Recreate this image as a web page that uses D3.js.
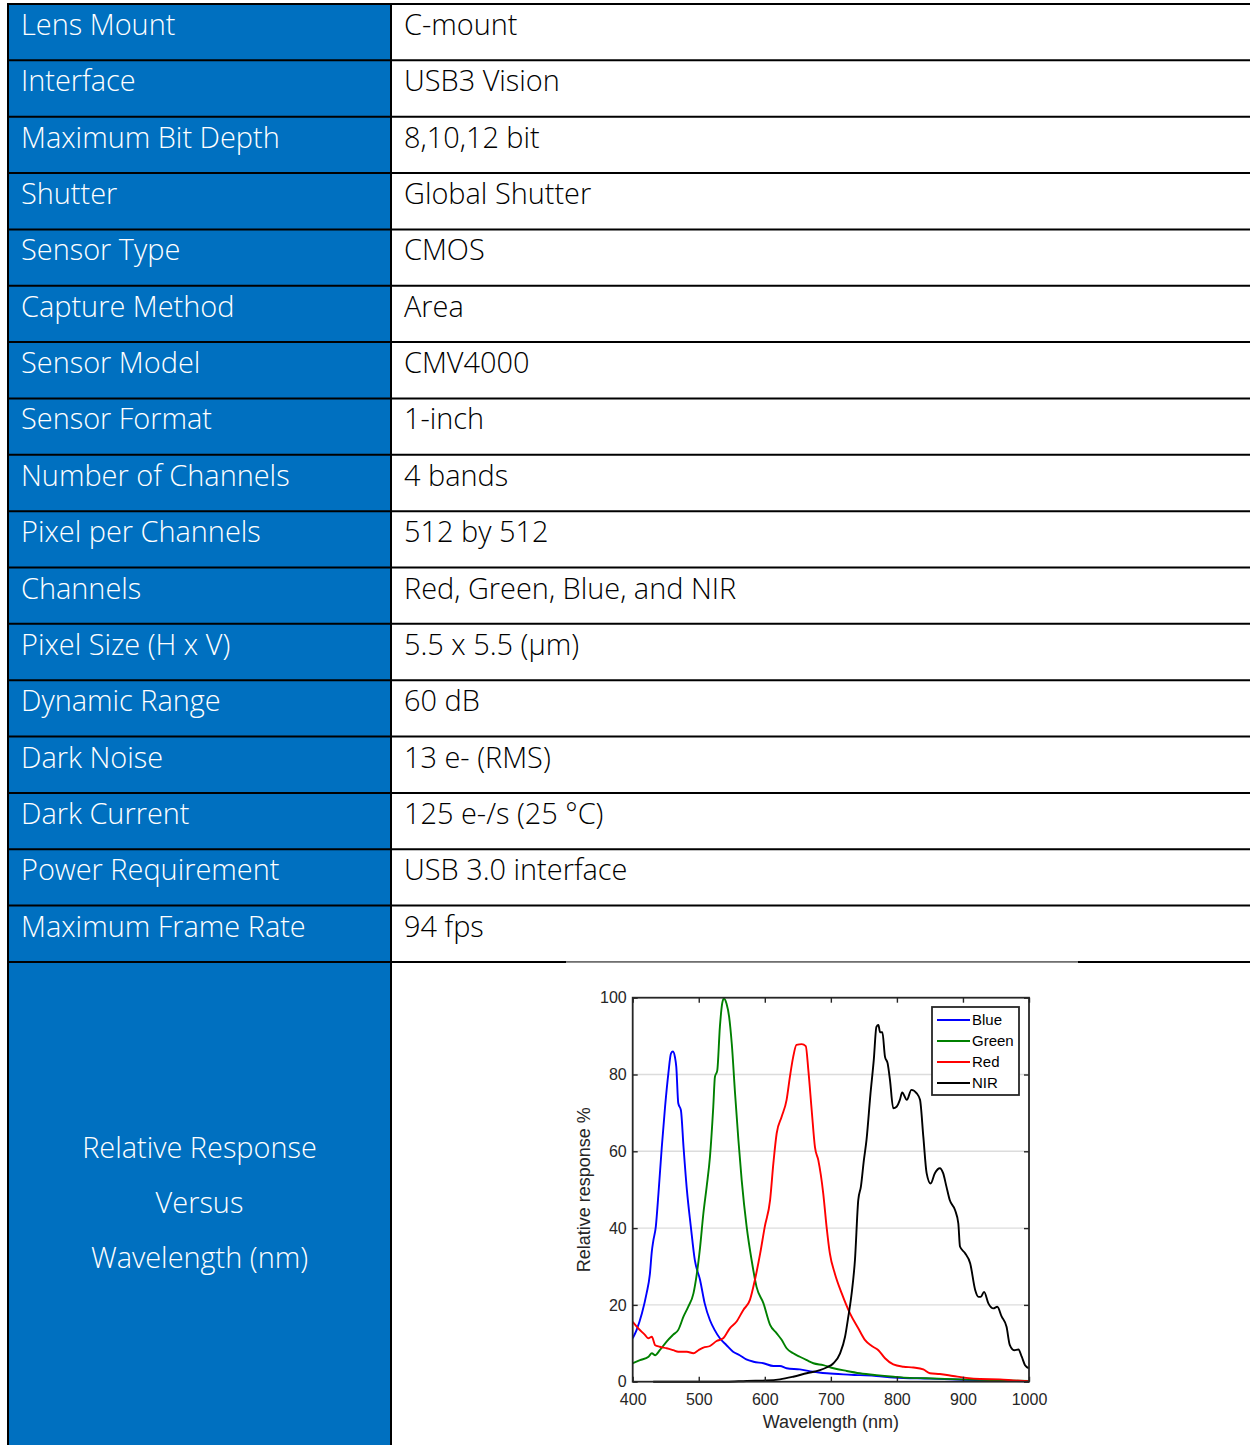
<!DOCTYPE html>
<html>
<head>
<meta charset="utf-8">
<script src="https://cdn.jsdelivr.net/npm/d3@7"></script>
<style>
  body { margin: 0; background: #fff; }
  svg { display: block; }
</style>
</head>
<body>
<svg width="1250" height="1445"></svg>
<script>
// camera spec table + spectral response plot

// table rows
const specNames = [
  "Lens Mount", "Interface", "Maximum Bit Depth", "Shutter", "Sensor Type",
  "Capture Method", "Sensor Model", "Sensor Format", "Number of Channels",
  "Pixel per Channels", "Channels", "Pixel Size (H x V)", "Dynamic Range",
  "Dark Noise", "Dark Current", "Power Requirement", "Maximum Frame Rate"
];
const specValues = [
  "C-mount", "USB3 Vision", "8,10,12 bit", "Global Shutter", "CMOS",
  "Area", "CMV4000", "1-inch", "4 bands", "512 by 512",
  "Red, Green, Blue, and NIR", "5.5 x 5.5 (\u00b5m)", "60 dB",
  "13 e- (RMS)", "125 e-/s (25 \u00b0C)", "USB 3.0 interface", "94 fps"
];
const lastRowLabel = ["Relative Response", "Versus", "Wavelength (nm)"];

// spectral curves, [wavelength nm, relative response %]
const blueCurve = [
  [400, 11.3], [406, 13.5], [414, 17.8], [421, 23], [426, 28], [429, 34], [431, 36.5],
  [435, 40.4], [439, 49], [444, 61], [449, 71.6], [454, 80.3], [458, 85.5], [461, 86],
  [464, 84.5], [466, 82], [469, 72.5], [473, 70.7], [477, 61], [482, 50], [488, 40.4],
  [494, 31.7], [502, 26.5], [509, 20.4], [517, 16], [524, 13.5], [532, 11.3], [542, 9.5],
  [552, 7.8], [562, 6.9], [572, 5.8], [583, 5.2], [598, 4.8], [613, 4.1], [623, 4.1],
  [633, 3.5], [653, 3.2], [673, 2.6], [694, 2.2], [719, 1.9], [744, 1.7], [769, 1.5],
  [795, 1.1], [850, 0.8], [900, 0.5], [950, 0.3], [1000, 0.1]
];
const greenCurve = [
  [400, 4.8], [411, 5.6], [424, 6.5], [429, 7.4], [434, 6.9], [441, 8.2], [451, 10.4],
  [461, 12.2], [469, 13.5], [477, 17], [484, 19.5], [492, 23], [497, 28], [502, 35],
  [507, 43.8], [512, 50.8], [517, 58.6], [522, 71.6], [524.5, 79.4], [528, 81],
  [532, 92.4], [535.5, 98.5], [538, 99.8], [542, 98.5], [546, 95], [550, 88], [555, 75],
  [560, 63], [565, 52.5], [572.5, 40.4], [580, 31.7], [587.5, 24.7], [598, 20.4],
  [608, 14.8], [618, 12.6], [625.5, 10.9], [633, 8.7], [643, 7.4], [653, 6.5],
  [663.5, 5.6], [673.5, 4.8], [688.5, 4.3], [704, 3.5], [724, 2.8], [744, 2.2],
  [769, 1.7], [795, 1.3], [820, 1.0], [845, 0.9], [895, 0.6], [946, 0.4], [1000, 0.2]
];
const redCurve = [
  [400, 15.6], [408.5, 13.9], [418.5, 12.2], [423.5, 11.3], [429, 11.7], [434, 9.5],
  [441, 9.1], [451.5, 8.7], [461.5, 8.2], [469, 7.8], [482, 7.8], [492, 7.4], [499.5, 8.2],
  [507, 8.9], [517, 9.3], [527, 10.6], [537, 11.3], [547, 13.9], [557, 15.6],
  [567.5, 18.7], [577.5, 21.3], [585, 26.5], [593, 33.4], [600, 40.4], [608, 47.3],
  [613, 56.9], [618, 64.7], [625.5, 69], [633, 73.4], [638, 79.4], [643, 84.6],
  [648, 87.7], [656, 87.9], [662, 87.4], [666, 81], [671, 70.7], [676, 61], [681, 57.7],
  [688.5, 49], [693.5, 40.4], [698.5, 33.4], [706, 28.2], [716.5, 23], [729, 17.8],
  [741.5, 13.9], [751.5, 10.9], [762, 9.3], [772, 8.2], [782, 6.1], [794.5, 4.5],
  [810, 3.9], [825, 3.7], [840, 3.2], [850, 2.2], [865, 2.0], [885, 1.5], [905, 1.0],
  [926, 0.7], [956, 0.6], [976, 0.35], [1000, 0.1]
];
const nirCurve = [
  [431, 0], [542, 0], [572.5, 0.2], [603, 0.3], [623, 0.6], [643, 1.3], [663.5, 2.2],
  [683.5, 3.0], [693.5, 3.7], [704, 4.8], [714, 7.4], [721.5, 11.7], [726.5, 17],
  [731.5, 23], [736.5, 31.7], [741.5, 47.3], [745.5, 50.8], [750, 57.7], [754, 63],
  [760, 75], [765, 83.8], [769, 92.4], [772, 92.9], [774.5, 91], [778, 91], [782, 84.6],
  [786, 82.9], [789.5, 78.6], [794.5, 71.2], [799.5, 71.6], [804.5, 73.4], [808, 75.3],
  [815, 73.4], [822, 76], [830, 75.1], [835, 73.4], [840, 63.8], [845, 54.3],
  [851, 51.6], [857.5, 54.3], [865, 55.6], [870, 54.3], [875, 50.8], [880, 47.3],
  [888, 44.7], [893, 41.2], [895.5, 35.2], [903, 33.5], [911, 30.8], [918.5, 23.9],
  [923.5, 22.1], [927, 22.1], [932, 23.4], [938.5, 20.4], [946, 19.1], [952, 19.5],
  [958.5, 17], [966, 14.3], [971, 9.5], [977.5, 8.2], [984, 8.4], [989, 6.5],
  [994, 4.3], [1000, 3.5]
];

const seriesNames = ["Blue", "Green", "Red", "NIR"];
const seriesColors = ["#0000ff", "#008000", "#ff0000", "#000000"];
const seriesData = [blueCurve, greenCurve, redCurve, nirCurve];

const xTicks = [400, 500, 600, 700, 800, 900, 1000];
const yTicks = [0, 20, 40, 60, 80, 100];

const svg = d3.select("svg");

// ---------- table ----------
const tableLeft = 8;
const colSplit = 391;
const tableRight = 1250;
const tableTop = 4;
const rowH = 56.35;
const nRows = specNames.length;
const lastTop = tableTop + nRows * rowH;
const tableFont = "'Open Sans', 'Noto Sans', sans-serif";
const tableSize = "28.9px";

// blue label column
svg.append("rect")
  .attr("x", tableLeft).attr("y", tableTop)
  .attr("width", colSplit - tableLeft).attr("height", 1445 - tableTop)
  .attr("fill", "#0070c0");

const rows = svg.append("g").selectAll("g")
  .data(specNames)
  .enter().append("g")
  .attr("transform", (d, i) => `translate(0,${tableTop + i * rowH})`);

rows.append("text")
  .attr("x", 21).attr("y", 31)
  .text(d => d)
  .style("font-family", tableFont)
  .style("font-size", tableSize)
  .style("font-weight", 300)
  .style("fill", "#ffffff");

rows.append("text")
  .attr("x", 404).attr("y", 31)
  .text((d, i) => specValues[i])
  .style("font-family", tableFont)
  .style("font-size", tableSize)
  .style("font-weight", 300)
  .style("fill", "#000000");

// horizontal rules
const rules = d3.range(nRows).map(i => tableTop + i * rowH);
svg.append("g").selectAll("line")
  .data(rules)
  .enter().append("line")
  .attr("x1", tableLeft).attr("x2", tableRight)
  .attr("y1", d => d).attr("y2", d => d)
  .attr("stroke", "#000").attr("stroke-width", 2);

// last rule: thin where the plot picture sits
svg.append("line")
  .attr("x1", tableLeft).attr("x2", 566)
  .attr("y1", lastTop).attr("y2", lastTop)
  .attr("stroke", "#000").attr("stroke-width", 2);
svg.append("line")
  .attr("x1", 566).attr("x2", 1078)
  .attr("y1", lastTop).attr("y2", lastTop)
  .attr("stroke", "#000").attr("stroke-width", 1);
svg.append("line")
  .attr("x1", 1078).attr("x2", tableRight)
  .attr("y1", lastTop).attr("y2", lastTop)
  .attr("stroke", "#000").attr("stroke-width", 2);

// vertical rules
[tableLeft, colSplit].forEach(x => {
  svg.append("line")
    .attr("x1", x).attr("x2", x)
    .attr("y1", tableTop - 1).attr("y2", 1445)
    .attr("stroke", "#000").attr("stroke-width", 2);
});

// last row label
svg.append("g").selectAll("text")
  .data(lastRowLabel)
  .enter().append("text")
  .attr("x", (tableLeft + colSplit) / 2)
  .attr("y", (d, i) => 1158 + i * 55)
  .attr("text-anchor", "middle")
  .text(d => d)
  .style("font-family", tableFont)
  .style("font-size", tableSize)
  .style("font-weight", 300)
  .style("fill", "#ffffff");

// ---------- spectral plot ----------
const plotFont = "'Liberation Sans', Arial, sans-serif";
const axisColor = "#262626";
const x = d3.scaleLinear().domain([400, 1000]).range([632.7, 1029]);
const y = d3.scaleLinear().domain([0, 100]).range([1381.7, 997.7]);

const plot = svg.append("g");

// grid
plot.append("g").selectAll("line")
  .data(yTicks.filter(t => t > 0 && t < 100))
  .enter().append("line")
  .attr("x1", x(400)).attr("x2", x(1000))
  .attr("y1", d => y(d)).attr("y2", d => y(d))
  .attr("stroke", "#dcdcdc").attr("stroke-width", 1.4);

// curves
const line = d3.line().x(d => x(d[0])).y(d => y(d[1])).curve(d3.curveMonotoneX);
plot.append("g").selectAll("path")
  .data(seriesData)
  .enter().append("path")
  .attr("d", line)
  .attr("fill", "none")
  .attr("stroke", (d, i) => seriesColors[i])
  .attr("stroke-width", 1.9);

// axes, ticks pointing inward like matlab
const styleAxis = g => {
  g.select(".domain").remove();
  g.selectAll("line").attr("stroke", axisColor).attr("stroke-width", 1.4);
  g.selectAll("text")
    .style("font-family", plotFont)
    .style("font-size", "16px")
    .style("fill", axisColor);
};

plot.append("g")
  .attr("transform", `translate(0,${y(0)})`)
  .call(d3.axisBottom(x).tickValues(xTicks).tickSize(-5).tickPadding(12).tickFormat(d3.format("d")))
  .call(styleAxis);
plot.append("g")
  .attr("transform", `translate(0,${y(100)})`)
  .call(d3.axisTop(x).tickValues(xTicks).tickSize(-5).tickFormat(""))
  .call(styleAxis);
plot.append("g")
  .attr("transform", `translate(${x(400)},0)`)
  .call(d3.axisLeft(y).tickValues(yTicks).tickSize(-5).tickPadding(6))
  .call(styleAxis);
plot.append("g")
  .attr("transform", `translate(${x(1000)},0)`)
  .call(d3.axisRight(y).tickValues(yTicks).tickSize(-5).tickFormat(""))
  .call(styleAxis);

// box
plot.append("rect")
  .attr("x", x(400)).attr("y", y(100))
  .attr("width", x(1000) - x(400)).attr("height", y(0) - y(100))
  .attr("fill", "none")
  .attr("stroke", axisColor).attr("stroke-width", 1.8);

// axis titles
plot.append("text")
  .attr("x", (x(400) + x(1000)) / 2).attr("y", 1428)
  .attr("text-anchor", "middle")
  .text("Wavelength (nm)")
  .style("font-family", plotFont).style("font-size", "18px").style("fill", axisColor);
plot.append("text")
  .attr("transform", `translate(590,${(y(0) + y(100)) / 2}) rotate(-90)`)
  .attr("text-anchor", "middle")
  .text("Relative response %")
  .style("font-family", plotFont).style("font-size", "18px").style("fill", axisColor);

// legend
const legend = plot.append("g").attr("transform", "translate(932,1007)");
legend.append("rect")
  .attr("width", 87).attr("height", 88)
  .attr("fill", "#fff")
  .attr("stroke", axisColor).attr("stroke-width", 1.8);
const items = legend.selectAll(".item")
  .data(seriesNames)
  .enter().append("g")
  .attr("transform", (d, i) => `translate(0,${13 + i * 21})`);
items.append("line")
  .attr("x1", 5).attr("x2", 38)
  .attr("stroke", (d, i) => seriesColors[i])
  .attr("stroke-width", 2);
items.append("text")
  .attr("x", 40).attr("dy", "0.35em")
  .text(d => d)
  .style("font-family", plotFont).style("font-size", "15px").style("fill", "#000");
</script>
</body>
</html>
